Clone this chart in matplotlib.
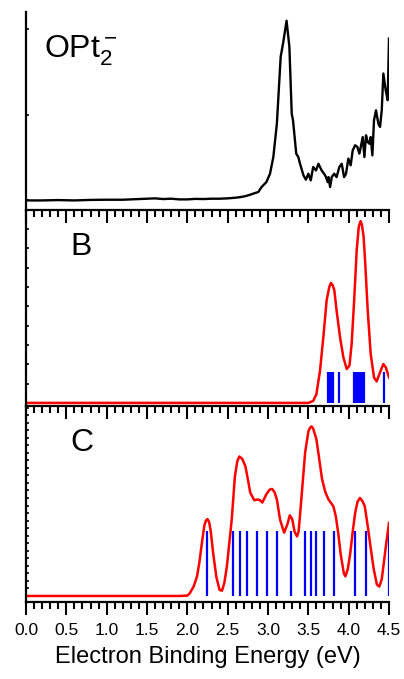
import numpy as np
import matplotlib
matplotlib.use("Agg")
import matplotlib.pyplot as plt
from matplotlib.ticker import MultipleLocator

plt.rcParams['font.family'] = ['Liberation Sans', 'DejaVu Sans']
plt.rcParams['mathtext.fontset'] = 'custom'
plt.rcParams['mathtext.rm'] = 'Liberation Sans'
plt.rcParams['mathtext.it'] = 'Liberation Sans:italic'

exp_e = [0.0, 0.2, 0.4, 0.6, 0.8, 1.0, 1.2, 1.4, 1.5, 1.6, 1.7, 1.8, 1.9, 2.0,
         2.1, 2.2, 2.3, 2.4, 2.5, 2.6, 2.653, 2.72, 2.777, 2.839, 2.88, 2.92,
         2.98, 3.025, 3.066, 3.11, 3.157, 3.19, 3.23, 3.265, 3.294, 3.31, 3.35,
         3.376, 3.397, 3.44, 3.47, 3.50, 3.53, 3.56, 3.595, 3.625, 3.665, 3.695,
         3.72, 3.74, 3.75, 3.77, 3.79, 3.82, 3.85, 3.884, 3.914, 3.943, 3.967,
         3.996, 4.025, 4.05, 4.08, 4.108, 4.133, 4.15, 4.174, 4.195, 4.215,
         4.236, 4.256, 4.273, 4.294, 4.314, 4.339, 4.368, 4.389, 4.41, 4.43,
         4.459, 4.484, 4.50]
exp_v = [0.0, 0.0, 0.002, 0.0, 0.003, 0.004, 0.004, 0.008, 0.01, 0.012, 0.008,
         0.01, 0.006, 0.006, 0.009, 0.008, 0.01, 0.01, 0.012, 0.016, 0.019,
         0.025, 0.033, 0.043, 0.049, 0.078, 0.107, 0.156, 0.253, 0.448, 0.838,
         0.926, 1.049, 0.897, 0.507, 0.468, 0.273, 0.253, 0.214, 0.146, 0.121,
         0.156, 0.117, 0.195, 0.175, 0.214, 0.175, 0.156, 0.136, 0.107, 0.136,
         0.078, 0.136, 0.156, 0.136, 0.195, 0.214, 0.136, 0.156, 0.244, 0.205,
         0.292, 0.322, 0.312, 0.273, 0.312, 0.370, 0.253, 0.380, 0.341, 0.331,
         0.370, 0.263, 0.468, 0.526, 0.448, 0.429, 0.526, 0.741, 0.643, 0.585,
         0.945]

# isomer B: simulated spectrum and stick positions
b_e = [0.0, 3.50, 3.56, 3.60, 3.645, 3.686, 3.727, 3.76, 3.78, 3.80, 3.822,
       3.85, 3.893, 3.934, 3.976, 4.01, 4.037, 4.066, 4.10, 4.125, 4.148,
       4.165, 4.185, 4.203, 4.236, 4.273, 4.314, 4.347, 4.389, 4.43, 4.46,
       4.50]
b_v = [0, 0, 0.1, 0.45, 1.67, 3.4, 5.31, 6.0, 6.2, 6.1, 5.83, 4.79, 3.4, 2.36,
       1.75, 1.93, 3.06, 5.14, 7.92, 9.1, 9.4, 9.2, 8.6, 7.4, 4.79, 2.53,
       1.32, 1.11, 1.58, 2.01, 1.84, 1.32]
b_sticks = [3.745, 3.765, 3.785, 3.805, 3.884, 4.07, 4.09, 4.105, 4.12, 4.14,
            4.16, 4.18, 4.195, 4.44]
b_stick_h = 1.58

# isomer C
c_e = [0.0, 1.9, 2.0, 2.03, 2.08, 2.12, 2.15, 2.18, 2.21, 2.23, 2.25, 2.27,
       2.29, 2.32, 2.36, 2.40, 2.43, 2.46, 2.49, 2.52, 2.55, 2.59, 2.62, 2.645,
       2.68, 2.72, 2.75, 2.78, 2.83, 2.87, 2.90, 2.93, 2.98, 3.02, 3.05, 3.08,
       3.11, 3.15, 3.20, 3.24, 3.27, 3.30, 3.33, 3.36, 3.38, 3.41, 3.46, 3.50,
       3.52, 3.54, 3.56, 3.60, 3.64, 3.67, 3.71, 3.75, 3.81, 3.84, 3.87, 3.90,
       3.94, 3.96, 3.99, 4.02, 4.05, 4.08, 4.11, 4.14, 4.17, 4.20, 4.24, 4.27,
       4.31, 4.35, 4.38, 4.41, 4.43, 4.46, 4.50]
c_v = [0, 0, 0.05, 0.35, 1.3, 2.6, 4.5, 7.0, 9.3, 10.0, 10.2, 9.8, 8.6, 5.7,
       2.5, 0.8, 0.7, 1.8, 3.9, 7.0, 10.1, 15.9, 17.9, 18.5, 18.2, 17.2, 15.5,
       13.7, 12.7, 12.8, 12.7, 12.4, 13.5, 14.1, 14.2, 13.8, 12.8, 10.1, 8.4,
       9.5, 10.7, 10.2, 8.5, 7.9, 8.6, 12.4, 19.0, 21.8, 22.3, 22.5, 22.2,
       20.8, 17.8, 15.5, 13.8, 12.8, 11.9, 10.6, 8.4, 5.6, 3.0, 2.6, 3.6, 5.7,
       8.5, 11.0, 12.5, 13.0, 12.6, 11.9, 9.0, 6.6, 3.6, 1.5, 1.25, 2.2, 3.9,
       6.5, 9.7]
c_sticks = [2.25, 2.56, 2.65, 2.74, 2.86, 2.99, 3.11, 3.29, 3.46, 3.53, 3.59,
            3.70, 3.82, 4.08, 4.21, 4.50]
c_stick_h = 8.67

xticks = [0.0, 0.5, 1.0, 1.5, 2.0, 2.5, 3.0, 3.5, 4.0, 4.5]

fig = plt.figure(figsize=(4.04, 6.79), dpi=100)
left, width = 26 / 404, 363 / 404
ax_top = fig.add_axes([left, 1 - 209.5 / 679, width, 197.5 / 679])
ax_b = fig.add_axes([left, 1 - 406 / 679, width, 196.5 / 679])
ax_c = fig.add_axes([left, 1 - 602 / 679, width, 196 / 679])

# every panel: ticks on the bottom spine pointing down (into the next panel)
for ax in (ax_top, ax_b, ax_c):
    ax.set_xlim(0, 4.5)
    ax.patch.set_alpha(0)
    ax.spines['right'].set_visible(False)
    ax.spines['top'].set_visible(False)
    ax.spines['left'].set_linewidth(1.6)
    ax.spines['bottom'].set_linewidth(1.6)
    ax.tick_params(axis='y', which='both', direction='in', length=2,
                   width=1.2, labelleft=False)
    ax.set_xticks(xticks)
    ax.xaxis.set_minor_locator(MultipleLocator(0.1))
    ax.tick_params(axis='x', which='both', direction='out', width=1.5,
                   labelbottom=False)
    ax.tick_params(axis='x', which='major', length=9)
    ax.tick_params(axis='x', which='minor', length=5)

# top panel: experiment
ax_top.plot(exp_e, exp_v, color='black', lw=1.7)
ax_top.set_ylim(-0.053, 1.10)
ax_top.yaxis.set_major_locator(MultipleLocator(0.5))
ax_top.text(0.05, 0.77, r'OPt$_2^-$', transform=ax_top.transAxes,
            fontsize=23, va='baseline')

# isomer B
ax_b.vlines(b_sticks, 0, b_stick_h, color='#0000ff', lw=1.6)
ax_b.plot(b_e, b_v, color='red', lw=1.8)
ax_b.set_ylim(-0.16, 10.0)
ax_b.yaxis.set_major_locator(MultipleLocator(1))
ax_b.text(0.122, 0.77, 'B', transform=ax_b.transAxes, fontsize=23,
          va='baseline')

# isomer C
ax_c.vlines(c_sticks, 0, c_stick_h, color='#0000ff', lw=1.6)
ax_c.plot(c_e, c_v, color='red', lw=1.8)
ax_c.set_ylim(-0.8, 25.2)
ax_c.yaxis.set_major_locator(MultipleLocator(1))
ax_c.tick_params(axis='x', which='major', labelbottom=True, labelsize=12.5,
                 pad=6)
ax_c.set_xticklabels([f'{t:.1f}' for t in xticks])
ax_c.set_xlabel('Electron Binding Energy (eV)', fontsize=17, labelpad=6)
ax_c.text(0.122, 0.77, 'C', transform=ax_c.transAxes, fontsize=23,
          va='baseline')

fig.savefig('out.png', dpi=100)
